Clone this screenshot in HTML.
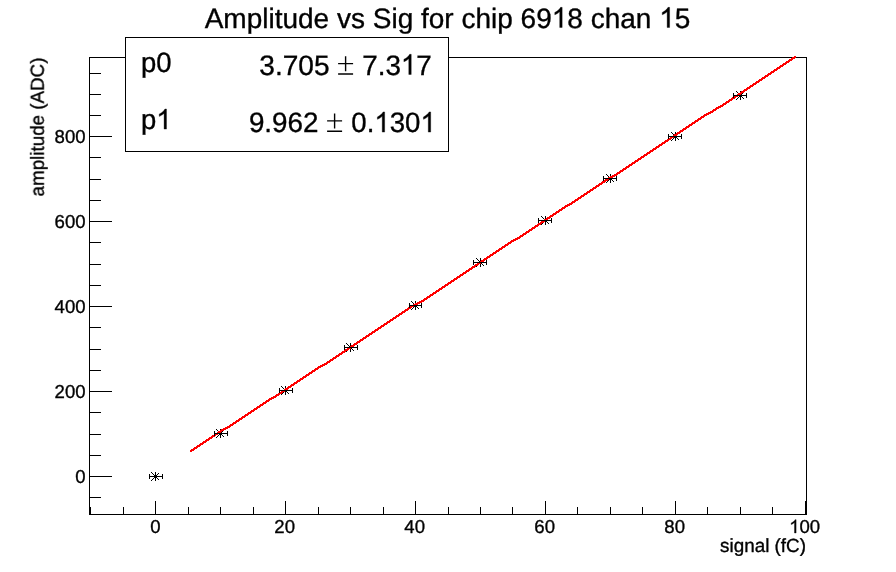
<!DOCTYPE html>
<html lang="en"><head><meta charset="utf-8"><title>Amplitude vs Sig for chip 6918 chan 15</title>
<style>html,body{margin:0;padding:0;background:#fff;overflow:hidden;}svg{display:block;}text{font-family:"Liberation Sans",sans-serif;fill:#000;stroke:#000;stroke-width:0.35;text-rendering:geometricPrecision;font-kerning:none;}.h{fill:none;stroke:none;}</style></head><body>
<svg width="896" height="572" viewBox="0 0 896 572">
<rect x="0" y="0" width="896" height="572" fill="#fff"/>
<g shape-rendering="crispEdges" fill="#000">
<rect x="89" y="57" width="718" height="1"/>
<rect x="89" y="514" width="718" height="1"/>
<rect x="89" y="57" width="1" height="458"/>
<rect x="806" y="57" width="1" height="458"/>
<rect x="90" y="507" width="1" height="7"/>
<rect x="123" y="507" width="1" height="7"/>
<rect x="155" y="501" width="1" height="13"/>
<rect x="188" y="507" width="1" height="7"/>
<rect x="220" y="507" width="1" height="7"/>
<rect x="253" y="507" width="1" height="7"/>
<rect x="285" y="501" width="1" height="13"/>
<rect x="318" y="507" width="1" height="7"/>
<rect x="350" y="507" width="1" height="7"/>
<rect x="383" y="507" width="1" height="7"/>
<rect x="415" y="501" width="1" height="13"/>
<rect x="448" y="507" width="1" height="7"/>
<rect x="480" y="507" width="1" height="7"/>
<rect x="512" y="507" width="1" height="7"/>
<rect x="545" y="501" width="1" height="13"/>
<rect x="577" y="507" width="1" height="7"/>
<rect x="610" y="507" width="1" height="7"/>
<rect x="642" y="507" width="1" height="7"/>
<rect x="675" y="501" width="1" height="13"/>
<rect x="707" y="507" width="1" height="7"/>
<rect x="740" y="507" width="1" height="7"/>
<rect x="772" y="507" width="1" height="7"/>
<rect x="805" y="501" width="1" height="13"/>
<rect x="89" y="497" width="12" height="1"/>
<rect x="89" y="476" width="23" height="1"/>
<rect x="89" y="455" width="12" height="1"/>
<rect x="89" y="434" width="12" height="1"/>
<rect x="89" y="412" width="12" height="1"/>
<rect x="89" y="391" width="23" height="1"/>
<rect x="89" y="370" width="12" height="1"/>
<rect x="89" y="349" width="12" height="1"/>
<rect x="89" y="327" width="12" height="1"/>
<rect x="89" y="306" width="23" height="1"/>
<rect x="89" y="285" width="12" height="1"/>
<rect x="89" y="264" width="12" height="1"/>
<rect x="89" y="242" width="12" height="1"/>
<rect x="89" y="221" width="23" height="1"/>
<rect x="89" y="200" width="12" height="1"/>
<rect x="89" y="179" width="12" height="1"/>
<rect x="89" y="157" width="12" height="1"/>
<rect x="89" y="136" width="23" height="1"/>
<rect x="89" y="115" width="12" height="1"/>
<rect x="89" y="94" width="12" height="1"/>
<rect x="89" y="73" width="12" height="1"/>
</g>
<path shape-rendering="crispEdges" fill="#000" d="M151 480h1v1h-1zM151 472h1v1h-1zM152 479h1v1h-1zM152 473h1v1h-1zM153 478h1v1h-1zM153 474h1v1h-1zM154 477h1v1h-1zM154 475h1v1h-1zM155 476h1v1h-1zM155 476h1v1h-1zM156 475h1v1h-1zM156 477h1v1h-1zM157 474h1v1h-1zM157 478h1v1h-1zM158 473h1v1h-1zM158 479h1v1h-1zM155 472h1v9h-1zM151 476h9v1h-9zM216 437h1v1h-1zM216 429h1v1h-1zM217 436h1v1h-1zM217 430h1v1h-1zM218 435h1v1h-1zM218 431h1v1h-1zM219 434h1v1h-1zM219 432h1v1h-1zM220 433h1v1h-1zM220 433h1v1h-1zM221 432h1v1h-1zM221 434h1v1h-1zM222 431h1v1h-1zM222 435h1v1h-1zM223 430h1v1h-1zM223 436h1v1h-1zM220 429h1v9h-1zM216 433h9v1h-9zM281 394h1v1h-1zM281 386h1v1h-1zM282 393h1v1h-1zM282 387h1v1h-1zM283 392h1v1h-1zM283 388h1v1h-1zM284 391h1v1h-1zM284 389h1v1h-1zM285 390h1v1h-1zM285 390h1v1h-1zM286 389h1v1h-1zM286 391h1v1h-1zM287 388h1v1h-1zM287 392h1v1h-1zM288 387h1v1h-1zM288 393h1v1h-1zM285 386h1v9h-1zM281 390h9v1h-9zM346 351h1v1h-1zM346 343h1v1h-1zM347 350h1v1h-1zM347 344h1v1h-1zM348 349h1v1h-1zM348 345h1v1h-1zM349 348h1v1h-1zM349 346h1v1h-1zM350 347h1v1h-1zM350 347h1v1h-1zM351 346h1v1h-1zM351 348h1v1h-1zM352 345h1v1h-1zM352 349h1v1h-1zM353 344h1v1h-1zM353 350h1v1h-1zM350 343h1v9h-1zM346 347h9v1h-9zM411 309h1v1h-1zM411 301h1v1h-1zM412 308h1v1h-1zM412 302h1v1h-1zM413 307h1v1h-1zM413 303h1v1h-1zM414 306h1v1h-1zM414 304h1v1h-1zM415 305h1v1h-1zM415 305h1v1h-1zM416 304h1v1h-1zM416 306h1v1h-1zM417 303h1v1h-1zM417 307h1v1h-1zM418 302h1v1h-1zM418 308h1v1h-1zM415 301h1v9h-1zM411 305h9v1h-9zM476 266h1v1h-1zM476 258h1v1h-1zM477 265h1v1h-1zM477 259h1v1h-1zM478 264h1v1h-1zM478 260h1v1h-1zM479 263h1v1h-1zM479 261h1v1h-1zM480 262h1v1h-1zM480 262h1v1h-1zM481 261h1v1h-1zM481 263h1v1h-1zM482 260h1v1h-1zM482 264h1v1h-1zM483 259h1v1h-1zM483 265h1v1h-1zM480 258h1v9h-1zM476 262h9v1h-9zM541 224h1v1h-1zM541 216h1v1h-1zM542 223h1v1h-1zM542 217h1v1h-1zM543 222h1v1h-1zM543 218h1v1h-1zM544 221h1v1h-1zM544 219h1v1h-1zM545 220h1v1h-1zM545 220h1v1h-1zM546 219h1v1h-1zM546 221h1v1h-1zM547 218h1v1h-1zM547 222h1v1h-1zM548 217h1v1h-1zM548 223h1v1h-1zM545 216h1v9h-1zM541 220h9v1h-9zM606 182h1v1h-1zM606 174h1v1h-1zM607 181h1v1h-1zM607 175h1v1h-1zM608 180h1v1h-1zM608 176h1v1h-1zM609 179h1v1h-1zM609 177h1v1h-1zM610 178h1v1h-1zM610 178h1v1h-1zM611 177h1v1h-1zM611 179h1v1h-1zM612 176h1v1h-1zM612 180h1v1h-1zM613 175h1v1h-1zM613 181h1v1h-1zM610 174h1v9h-1zM606 178h9v1h-9zM671 140h1v1h-1zM671 132h1v1h-1zM672 139h1v1h-1zM672 133h1v1h-1zM673 138h1v1h-1zM673 134h1v1h-1zM674 137h1v1h-1zM674 135h1v1h-1zM675 136h1v1h-1zM675 136h1v1h-1zM676 135h1v1h-1zM676 137h1v1h-1zM677 134h1v1h-1zM677 138h1v1h-1zM678 133h1v1h-1zM678 139h1v1h-1zM675 132h1v9h-1zM671 136h9v1h-9zM736 99h1v1h-1zM736 91h1v1h-1zM737 98h1v1h-1zM737 92h1v1h-1zM738 97h1v1h-1zM738 93h1v1h-1zM739 96h1v1h-1zM739 94h1v1h-1zM740 95h1v1h-1zM740 95h1v1h-1zM741 94h1v1h-1zM741 96h1v1h-1zM742 93h1v1h-1zM742 97h1v1h-1zM743 92h1v1h-1zM743 98h1v1h-1zM740 91h1v9h-1zM736 95h9v1h-9z"/>
<path shape-rendering="crispEdges" fill="#ff0000" d="M794 56h2v1h-2zM792 57h4v1h-4zM791 58h4v1h-4zM789 59h4v1h-4zM788 60h4v1h-4zM786 61h4v1h-4zM785 62h4v1h-4zM783 63h4v1h-4zM782 64h4v1h-4zM780 65h4v1h-4zM779 66h4v1h-4zM777 67h4v1h-4zM776 68h4v1h-4zM774 69h4v1h-4zM773 70h4v1h-4zM771 71h4v1h-4zM770 72h4v1h-4zM768 73h4v1h-4zM767 74h4v1h-4zM765 75h4v1h-4zM764 76h4v1h-4zM762 77h4v1h-4zM761 78h4v1h-4zM759 79h4v1h-4zM758 80h4v1h-4zM756 81h4v1h-4zM755 82h4v1h-4zM753 83h4v1h-4zM752 84h4v1h-4zM750 85h4v1h-4zM749 86h4v1h-4zM747 87h4v1h-4zM746 88h4v1h-4zM744 89h4v1h-4zM743 90h4v1h-4zM741 91h4v1h-4zM740 92h4v1h-4zM738 93h4v1h-4zM737 94h4v1h-4zM735 95h4v1h-4zM734 96h4v1h-4zM732 97h4v1h-4zM731 98h4v1h-4zM729 99h4v1h-4zM728 100h4v1h-4zM726 101h4v1h-4zM725 102h4v1h-4zM723 103h4v1h-4zM722 104h4v1h-4zM720 105h4v1h-4zM718 106h5v1h-5zM716 107h5v1h-5zM715 108h4v1h-4zM713 109h4v1h-4zM712 110h4v1h-4zM710 111h4v1h-4zM708 112h5v1h-5zM706 113h5v1h-5zM704 114h5v1h-5zM703 115h4v1h-4zM701 116h4v1h-4zM700 117h4v1h-4zM698 118h4v1h-4zM697 119h4v1h-4zM695 120h4v1h-4zM694 121h4v1h-4zM692 122h4v1h-4zM691 123h4v1h-4zM689 124h4v1h-4zM688 125h4v1h-4zM686 126h4v1h-4zM685 127h4v1h-4zM683 128h4v1h-4zM682 129h4v1h-4zM680 130h4v1h-4zM679 131h4v1h-4zM677 132h4v1h-4zM676 133h4v1h-4zM674 134h4v1h-4zM673 135h4v1h-4zM671 136h4v1h-4zM670 137h4v1h-4zM668 138h4v1h-4zM667 139h4v1h-4zM665 140h4v1h-4zM664 141h4v1h-4zM662 142h4v1h-4zM661 143h4v1h-4zM659 144h4v1h-4zM658 145h4v1h-4zM656 146h4v1h-4zM655 147h4v1h-4zM653 148h4v1h-4zM652 149h4v1h-4zM650 150h4v1h-4zM649 151h4v1h-4zM647 152h4v1h-4zM646 153h4v1h-4zM644 154h4v1h-4zM643 155h4v1h-4zM641 156h4v1h-4zM640 157h4v1h-4zM638 158h4v1h-4zM637 159h4v1h-4zM635 160h4v1h-4zM634 161h4v1h-4zM632 162h4v1h-4zM631 163h4v1h-4zM629 164h4v1h-4zM628 165h4v1h-4zM626 166h4v1h-4zM625 167h4v1h-4zM623 168h4v1h-4zM622 169h4v1h-4zM620 170h4v1h-4zM619 171h4v1h-4zM617 172h4v1h-4zM616 173h4v1h-4zM614 174h4v1h-4zM612 175h5v1h-5zM610 176h5v1h-5zM608 177h5v1h-5zM607 178h4v1h-4zM605 179h4v1h-4zM604 180h4v1h-4zM602 181h4v1h-4zM601 182h4v1h-4zM599 183h4v1h-4zM598 184h4v1h-4zM596 185h4v1h-4zM595 186h4v1h-4zM593 187h4v1h-4zM592 188h4v1h-4zM590 189h4v1h-4zM589 190h4v1h-4zM587 191h4v1h-4zM586 192h4v1h-4zM584 193h4v1h-4zM583 194h4v1h-4zM581 195h4v1h-4zM580 196h4v1h-4zM578 197h4v1h-4zM577 198h4v1h-4zM575 199h4v1h-4zM574 200h4v1h-4zM572 201h4v1h-4zM571 202h4v1h-4zM569 203h4v1h-4zM567 204h5v1h-5zM565 205h5v1h-5zM564 206h4v1h-4zM562 207h4v1h-4zM561 208h4v1h-4zM559 209h4v1h-4zM558 210h4v1h-4zM556 211h4v1h-4zM555 212h4v1h-4zM553 213h4v1h-4zM552 214h4v1h-4zM550 215h4v1h-4zM549 216h4v1h-4zM547 217h4v1h-4zM546 218h4v1h-4zM544 219h4v1h-4zM543 220h4v1h-4zM541 221h4v1h-4zM540 222h4v1h-4zM538 223h4v1h-4zM537 224h4v1h-4zM535 225h4v1h-4zM534 226h4v1h-4zM532 227h4v1h-4zM531 228h4v1h-4zM529 229h4v1h-4zM528 230h4v1h-4zM526 231h4v1h-4zM525 232h4v1h-4zM523 233h4v1h-4zM522 234h4v1h-4zM520 235h4v1h-4zM519 236h4v1h-4zM517 237h4v1h-4zM515 238h5v1h-5zM513 239h5v1h-5zM511 240h5v1h-5zM510 241h4v1h-4zM508 242h4v1h-4zM507 243h4v1h-4zM505 244h4v1h-4zM504 245h4v1h-4zM502 246h4v1h-4zM501 247h4v1h-4zM499 248h4v1h-4zM498 249h4v1h-4zM496 250h4v1h-4zM495 251h4v1h-4zM493 252h4v1h-4zM492 253h4v1h-4zM490 254h4v1h-4zM489 255h4v1h-4zM487 256h4v1h-4zM486 257h4v1h-4zM484 258h4v1h-4zM483 259h4v1h-4zM481 260h4v1h-4zM480 261h4v1h-4zM478 262h4v1h-4zM477 263h4v1h-4zM475 264h4v1h-4zM474 265h4v1h-4zM472 266h4v1h-4zM471 267h4v1h-4zM469 268h4v1h-4zM468 269h4v1h-4zM466 270h4v1h-4zM465 271h4v1h-4zM463 272h4v1h-4zM462 273h4v1h-4zM460 274h4v1h-4zM459 275h4v1h-4zM457 276h4v1h-4zM456 277h4v1h-4zM454 278h4v1h-4zM453 279h4v1h-4zM451 280h4v1h-4zM450 281h4v1h-4zM448 282h4v1h-4zM447 283h4v1h-4zM445 284h4v1h-4zM444 285h4v1h-4zM442 286h4v1h-4zM441 287h4v1h-4zM439 288h4v1h-4zM438 289h4v1h-4zM436 290h4v1h-4zM435 291h4v1h-4zM433 292h4v1h-4zM432 293h4v1h-4zM430 294h4v1h-4zM429 295h4v1h-4zM427 296h4v1h-4zM426 297h4v1h-4zM424 298h4v1h-4zM423 299h4v1h-4zM421 300h4v1h-4zM419 301h5v1h-5zM417 302h5v1h-5zM415 303h5v1h-5zM413 304h5v1h-5zM411 305h5v1h-5zM410 306h4v1h-4zM408 307h4v1h-4zM407 308h4v1h-4zM405 309h4v1h-4zM404 310h4v1h-4zM402 311h4v1h-4zM401 312h4v1h-4zM399 313h4v1h-4zM398 314h4v1h-4zM396 315h4v1h-4zM395 316h4v1h-4zM393 317h4v1h-4zM392 318h4v1h-4zM390 319h4v1h-4zM389 320h4v1h-4zM387 321h4v1h-4zM386 322h4v1h-4zM384 323h4v1h-4zM383 324h4v1h-4zM381 325h4v1h-4zM380 326h4v1h-4zM378 327h4v1h-4zM377 328h4v1h-4zM375 329h4v1h-4zM374 330h4v1h-4zM372 331h4v1h-4zM371 332h4v1h-4zM369 333h4v1h-4zM368 334h4v1h-4zM366 335h4v1h-4zM365 336h4v1h-4zM363 337h4v1h-4zM362 338h4v1h-4zM360 339h4v1h-4zM359 340h4v1h-4zM357 341h4v1h-4zM356 342h4v1h-4zM354 343h4v1h-4zM353 344h4v1h-4zM351 345h4v1h-4zM350 346h4v1h-4zM348 347h4v1h-4zM347 348h4v1h-4zM345 349h4v1h-4zM344 350h4v1h-4zM342 351h4v1h-4zM341 352h4v1h-4zM339 353h4v1h-4zM338 354h4v1h-4zM336 355h4v1h-4zM335 356h4v1h-4zM333 357h4v1h-4zM332 358h4v1h-4zM330 359h4v1h-4zM329 360h4v1h-4zM327 361h4v1h-4zM326 362h4v1h-4zM324 363h4v1h-4zM322 364h5v1h-5zM320 365h5v1h-5zM318 366h5v1h-5zM317 367h4v1h-4zM315 368h4v1h-4zM314 369h4v1h-4zM312 370h4v1h-4zM311 371h4v1h-4zM309 372h4v1h-4zM308 373h4v1h-4zM306 374h4v1h-4zM305 375h4v1h-4zM303 376h4v1h-4zM302 377h4v1h-4zM300 378h4v1h-4zM299 379h4v1h-4zM297 380h4v1h-4zM296 381h4v1h-4zM294 382h4v1h-4zM293 383h4v1h-4zM291 384h4v1h-4zM290 385h4v1h-4zM288 386h4v1h-4zM287 387h4v1h-4zM285 388h4v1h-4zM284 389h4v1h-4zM282 390h4v1h-4zM281 391h4v1h-4zM279 392h4v1h-4zM278 393h4v1h-4zM276 394h4v1h-4zM275 395h4v1h-4zM273 396h4v1h-4zM271 397h5v1h-5zM269 398h5v1h-5zM268 399h4v1h-4zM266 400h4v1h-4zM265 401h4v1h-4zM263 402h4v1h-4zM262 403h4v1h-4zM260 404h4v1h-4zM259 405h4v1h-4zM257 406h4v1h-4zM256 407h4v1h-4zM254 408h4v1h-4zM253 409h4v1h-4zM251 410h4v1h-4zM250 411h4v1h-4zM248 412h4v1h-4zM247 413h4v1h-4zM245 414h4v1h-4zM244 415h4v1h-4zM242 416h4v1h-4zM241 417h4v1h-4zM239 418h4v1h-4zM238 419h4v1h-4zM236 420h4v1h-4zM235 421h4v1h-4zM233 422h4v1h-4zM232 423h4v1h-4zM230 424h4v1h-4zM229 425h4v1h-4zM227 426h4v1h-4zM225 427h5v1h-5zM223 428h5v1h-5zM221 429h5v1h-5zM220 430h4v1h-4zM218 431h4v1h-4zM217 432h4v1h-4zM215 433h4v1h-4zM214 434h4v1h-4zM212 435h4v1h-4zM211 436h4v1h-4zM209 437h4v1h-4zM208 438h4v1h-4zM206 439h4v1h-4zM205 440h4v1h-4zM203 441h4v1h-4zM202 442h4v1h-4zM200 443h4v1h-4zM199 444h4v1h-4zM197 445h4v1h-4zM196 446h4v1h-4zM194 447h4v1h-4zM193 448h4v1h-4zM191 449h4v1h-4zM190 450h4v1h-4zM190 451h2v1h-2z"/>
<path shape-rendering="crispEdges" fill="#000" d="M149 476h14v1h-14zM149 474h1v5h-1zM162 474h1v5h-1zM214 433h14v1h-14zM214 431h1v5h-1zM227 431h1v5h-1zM279 390h14v1h-14zM279 388h1v5h-1zM292 388h1v5h-1zM344 347h14v1h-14zM344 345h1v5h-1zM357 345h1v5h-1zM409 305h13v1h-13zM409 303h1v5h-1zM421 303h1v5h-1zM473 262h14v1h-14zM473 260h1v5h-1zM486 260h1v5h-1zM538 220h14v1h-14zM538 218h1v5h-1zM551 218h1v5h-1zM603 178h14v1h-14zM603 176h1v5h-1zM616 176h1v5h-1zM668 136h14v1h-14zM668 134h1v5h-1zM681 134h1v5h-1zM733 95h14v1h-14zM733 93h1v5h-1zM746 93h1v5h-1z"/>
<g shape-rendering="crispEdges"><rect x="125.5" y="37.5" width="323" height="114" fill="#fff" stroke="#000" stroke-width="1"/></g>
<g opacity="0.999">
<path d="M345.6 56.25V71.25M338.1 63.6H353.1M338.1 74.0H353.1" stroke="#000" stroke-width="1.4" fill="none"/>
<path d="M334.6 113.4V128.5M327.1 120.9H342.1M327.1 131.2H342.1" stroke="#000" stroke-width="1.4" fill="none"/>
<g transform="translate(141.0,72.3) scale(0.98,1)"><text x="0" y="0" font-size="28" text-anchor="start">p0</text>
</g>
<g transform="translate(141.0,129.1) scale(0.98,1)"><text x="0" y="0" font-size="28" text-anchor="start">p<tspan class="h">1</tspan></text>
<path d="M763 0H583V1147Q518 1085 412.5 1023Q307 961 223 930V1104Q374 1175 487 1276Q600 1377 647 1472H763Z" transform="translate(15.58,0.00) scale(0.013672,-0.013672)" fill="#000" stroke="#000" stroke-width="25.6"/>
</g>
<g transform="translate(259.3,74.5)"><text x="0" y="0" font-size="28.1" text-anchor="start">3.705</text>
</g>
<g transform="translate(431.8,74.5) scale(0.99,1)"><text x="0" y="0" font-size="28.1" text-anchor="end">7.3<tspan class="h">1</tspan>7</text>
<path d="M763 0H583V1147Q518 1085 412.5 1023Q307 961 223 930V1104Q374 1175 487 1276Q600 1377 647 1472H763Z" transform="translate(-31.25,0.00) scale(0.013721,-0.013721)" fill="#000" stroke="#000" stroke-width="25.5"/>
</g>
<g transform="translate(248.9,132.1) scale(0.99,1)"><text x="0" y="0" font-size="28.1" text-anchor="start">9.962</text>
</g>
<g transform="translate(435.75,132.1) scale(0.982,1)"><text x="0" y="0" font-size="28.1" text-anchor="end">0.<tspan class="h">1</tspan>30<tspan class="h">1</tspan></text>
<path d="M763 0H583V1147Q518 1085 412.5 1023Q307 961 223 930V1104Q374 1175 487 1276Q600 1377 647 1472H763Z" transform="translate(-62.50,0.00) scale(0.013721,-0.013721)" fill="#000" stroke="#000" stroke-width="25.5"/>
<path d="M763 0H583V1147Q518 1085 412.5 1023Q307 961 223 930V1104Q374 1175 487 1276Q600 1377 647 1472H763Z" transform="translate(-15.62,0.00) scale(0.013721,-0.013721)" fill="#000" stroke="#000" stroke-width="25.5"/>
</g>
<g transform="translate(447.5,27.5)"><text x="0" y="0" font-size="28" text-anchor="middle">Amplitude vs Sig for chip 69<tspan class="h">1</tspan>8 chan <tspan class="h">1</tspan>5</text>
<path d="M763 0H583V1147Q518 1085 412.5 1023Q307 961 223 930V1104Q374 1175 487 1276Q600 1377 647 1472H763Z" transform="translate(104.23,0.00) scale(0.013672,-0.013672)" fill="#000" stroke="#000" stroke-width="25.6"/>
<path d="M763 0H583V1147Q518 1085 412.5 1023Q307 961 223 930V1104Q374 1175 487 1276Q600 1377 647 1472H763Z" transform="translate(211.67,0.00) scale(0.013672,-0.013672)" fill="#000" stroke="#000" stroke-width="25.6"/>
</g>
<g transform="translate(155.3,533.0)"><text x="0" y="0" font-size="18.6" text-anchor="middle">0</text>
</g>
<g transform="translate(284.7,533.0)"><text x="0" y="0" font-size="18.6" text-anchor="middle">20</text>
</g>
<g transform="translate(414.7,533.0)"><text x="0" y="0" font-size="18.6" text-anchor="middle">40</text>
</g>
<g transform="translate(544.7,533.0)"><text x="0" y="0" font-size="18.6" text-anchor="middle">60</text>
</g>
<g transform="translate(674.7,533.0)"><text x="0" y="0" font-size="18.6" text-anchor="middle">80</text>
</g>
<g transform="translate(804.7,533.0)"><text x="0" y="0" font-size="18.6" text-anchor="middle"><tspan class="h">1</tspan>00</text>
<path d="M763 0H583V1147Q518 1085 412.5 1023Q307 961 223 930V1104Q374 1175 487 1276Q600 1377 647 1472H763Z" transform="translate(-15.52,0.00) scale(0.009082,-0.009082)" fill="#000" stroke="#000" stroke-width="38.5"/>
</g>
<g transform="translate(85.6,483.0)"><text x="0" y="0" font-size="18.6" text-anchor="end">0</text>
</g>
<g transform="translate(85.6,398.0)"><text x="0" y="0" font-size="18.6" text-anchor="end">200</text>
</g>
<g transform="translate(85.6,313.0)"><text x="0" y="0" font-size="18.6" text-anchor="end">400</text>
</g>
<g transform="translate(85.6,228.0)"><text x="0" y="0" font-size="18.6" text-anchor="end">600</text>
</g>
<g transform="translate(85.6,143.0)"><text x="0" y="0" font-size="18.6" text-anchor="end">800</text>
</g>
<g transform="translate(806.0,551.7) scale(0.993,1)"><text x="0" y="0" font-size="19" text-anchor="end">signal (fC)</text>
</g>
<g transform="translate(43.8,57.5) rotate(-90) scale(0.989,1)"><text x="0" y="0" font-size="19" text-anchor="end">amplitude (ADC)</text>
</g>
</g>
</svg></body></html>
